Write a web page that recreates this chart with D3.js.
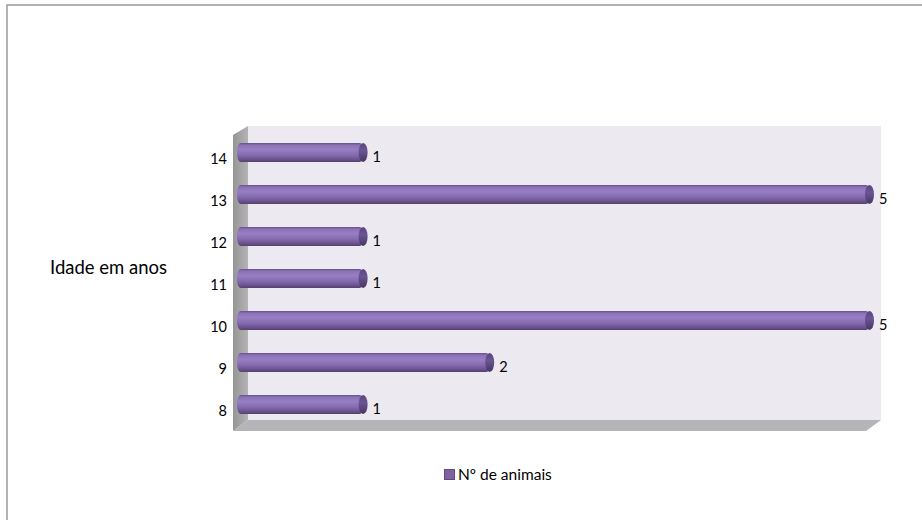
<!DOCTYPE html>
<html>
<head>
<meta charset="utf-8">
<script src="https://cdn.jsdelivr.net/npm/d3@7"></script>
<style>
html,body{margin:0;padding:0;background:#fff;}
svg{display:block;}
</style>
</head>
<body>
<svg id="chart" width="922" height="520"></svg>
<script>
const categories = ["8", "9", "10", "11", "12", "13", "14"];
const values = [1, 2, 5, 1, 1, 5, 1];
const seriesName = "Nº de animais";
const axisTitle = "Idade em anos";
const xDomain = [0, 5];

const svg = d3.select("#chart");
const FONT = "Lato, 'Open Sans', sans-serif";

// outer border
svg.append("rect").attr("x", 7).attr("y", 5).attr("width", 940).attr("height", 540)
  .attr("fill", "#fff").attr("stroke", "#9a9a9a").attr("stroke-width", 1.5);

// depth offsets
const dx = 15, dy = -11;
const xF = d3.scaleLinear().domain(xDomain).range([233, 866]);
const yF = d3.scaleBand().domain(categories.slice().reverse()).range([137, 431]);

const defs = svg.append("defs");
const wallG = defs.append("linearGradient").attr("id", "lwall").attr("x1", 0).attr("x2", 1).attr("y1", 0).attr("y2", 0);
wallG.append("stop").attr("offset", "0%").attr("stop-color", "#959595");
wallG.append("stop").attr("offset", "100%").attr("stop-color", "#b4b4b4");

const barG = defs.append("linearGradient").attr("id", "barg").attr("x1", 0).attr("x2", 0).attr("y1", 0).attr("y2", 1);
[["0%", "#66508e"], ["12%", "#8c72b6"], ["35%", "#987ec2"], ["65%", "#8469ae"], ["88%", "#675189"], ["100%", "#52406c"]]
  .forEach(([o, c]) => barG.append("stop").attr("offset", o).attr("stop-color", c));
const capG = defs.append("linearGradient").attr("id", "capg").attr("x1", 0).attr("x2", 0).attr("y1", 0).attr("y2", 1);
[["0%", "#5a467e"], ["40%", "#6a5494"], ["100%", "#463762"]]
  .forEach(([o, c]) => capG.append("stop").attr("offset", o).attr("stop-color", c));

const x0 = xF(xDomain[0]), x1 = xF(xDomain[1]);
const yTop = yF.range()[0], yBot = yF.range()[1];

// back wall
svg.append("rect").attr("x", x0 + dx).attr("y", yTop + dy)
  .attr("width", x1 - x0).attr("height", yBot - yTop).attr("fill", "#ece9f1");
// left wall
svg.append("polygon").attr("points", [[x0, yTop - 2], [x0 + dx, yTop + dy], [x0 + dx, yBot + dy], [x0, yBot]].join(" "))
  .attr("fill", "url(#lwall)");
// floor
svg.append("polygon").attr("points", [[x0, yBot], [x1, yBot], [x1 + dx, yBot + dy], [x0 + dx, yBot + dy]].join(" "))
  .attr("fill", "#b5b4b8");

// bars (middle depth)
const mdx = 8, mdy = -5.5;
const bh = 19;
const bars = svg.append("g").selectAll("g").data(categories.map((c, i) => ({ c, v: values[i] }))).join("g");
bars.append("rect")
  .attr("x", d => xF(0) + mdx - 4)
  .attr("y", d => yF(d.c) + yF.bandwidth() / 2 + mdy - bh / 2)
  .attr("width", d => xF(d.v) - xF(0))
  .attr("height", bh).attr("rx", 4).attr("ry", 8)
  .attr("fill", "url(#barg)");
bars.append("ellipse")
  .attr("cx", d => xF(d.v) + mdx - 4.5)
  .attr("cy", d => yF(d.c) + yF.bandwidth() / 2 + mdy)
  .attr("rx", 4.5).attr("ry", bh / 2)
  .attr("fill", "url(#capg)");
bars.append("text")
  .attr("x", d => xF(d.v) + mdx + 5)
  .attr("y", d => yF(d.c) + yF.bandwidth() / 2 + mdy + 4)
  .attr("dy", "0.35em")
  .attr("font-family", FONT).attr("font-size", 14.5).attr("fill", "#000")
  .text(d => d.v);

// category axis labels
svg.append("g").selectAll("text").data(categories).join("text")
  .attr("x", 227)
  .attr("y", d => yF(d) + yF.bandwidth() / 2 + 1)
  .attr("dy", "0.35em").attr("text-anchor", "end")
  .attr("font-family", FONT).attr("font-size", 14.5).attr("fill", "#000")
  .text(d => d);

// axis title
svg.append("text").attr("x", 50).attr("y", 268).attr("dy", "0.35em")
  .attr("font-family", FONT).attr("font-size", 18.5).attr("fill", "#000")
  .text(axisTitle);

// legend
svg.append("rect").attr("x", 444.5).attr("y", 469.5).attr("width", 10).attr("height", 10)
  .attr("fill", "#8064a2").attr("stroke", "#5e4a7e").attr("stroke-width", 1);
svg.append("text").attr("x", 458).attr("y", 475).attr("dy", "0.35em")
  .attr("font-family", FONT).attr("font-size", 15.5).attr("fill", "#000")
  .text(seriesName);
</script>
</body>
</html>
